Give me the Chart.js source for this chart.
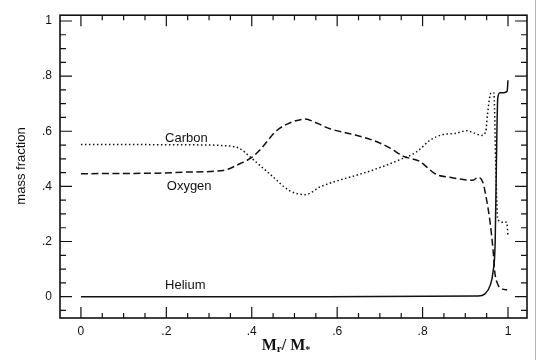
<!DOCTYPE html>
<html>
<head>
<meta charset="utf-8">
<script src="https://cdn.jsdelivr.net/npm/chart.js@4/dist/chart.umd.min.js"></script>
<style>
  html, body { margin: 0; padding: 0; background: #fff; }
  #wrap { width: 539px; height: 360px; }
</style>
</head>
<body>
<div id="wrap"><canvas id="chart" width="539" height="360"></canvas></div>
<script>
// tick labels
const xTicks = [0, 0.2, 0.4, 0.6, 0.8, 1];
const yTicks = [0, 0.2, 0.4, 0.6, 0.8, 1];

// Carbon (dotted)
const carbonX = [0, 0.1, 0.2, 0.3, 0.33, 0.37, 0.396, 0.443, 0.489, 0.525, 0.56, 0.6, 0.653, 0.707, 0.747, 0.786, 0.817, 0.848, 0.876, 0.904, 0.918, 0.939, 0.948, 0.952, 0.958, 0.962, 0.967, 0.971, 0.976, 0.988, 0.997, 1.0];
const carbonY = [0.552, 0.552, 0.551, 0.55, 0.548, 0.539, 0.507, 0.444, 0.384, 0.37, 0.398, 0.42, 0.444, 0.472, 0.497, 0.525, 0.567, 0.588, 0.592, 0.602, 0.595, 0.585, 0.6, 0.66, 0.73, 0.74, 0.74, 0.5, 0.28, 0.27, 0.27, 0.22];

// Oxygen (dashed)
const oxygenX = [0, 0.1, 0.185, 0.25, 0.333, 0.372, 0.4, 0.419, 0.458, 0.489, 0.525, 0.552, 0.583, 0.63, 0.684, 0.724, 0.754, 0.794, 0.81, 0.83, 0.864, 0.904, 0.918, 0.93, 0.941, 0.95, 0.958, 0.965, 0.969, 0.976, 0.986, 0.998];
const oxygenY = [0.446, 0.447, 0.448, 0.452, 0.458, 0.482, 0.505, 0.532, 0.602, 0.63, 0.644, 0.63, 0.609, 0.591, 0.567, 0.539, 0.51, 0.49, 0.47, 0.445, 0.433, 0.423, 0.422, 0.433, 0.415, 0.35, 0.27, 0.17, 0.09, 0.045, 0.028, 0.025];

// Helium (solid)
const heliumX = [0, 0.5, 0.93, 0.946, 0.958, 0.965, 0.97, 0.973, 0.976, 0.981, 0.99, 0.998, 1.0];
const heliumY = [0, 0, 0.002, 0.01, 0.04, 0.09, 0.2, 0.5, 0.72, 0.74, 0.74, 0.745, 0.785];

// curve names and where they sit
const curveNames = ['Carbon', 'Oxygen', 'Helium'];
const nameX = [0.197, 0.201, 0.197];
const nameY = [0.574, 0.401, 0.042];

function toPoints(xs, ys) {
  return xs.map(function(v, i) { return { x: v, y: ys[i] }; });
}

function fmtTick(value) {
  if (value === 0) return '0';
  if (value === 1) return '1';
  return '.' + Math.round(value * 10);
}

const INK = '#111';

// inward ticks on all four sides, frame, labels and axis titles
const decorations = {
  id: 'decorations',
  afterDatasetsDraw(chart) {
    const ctx = chart.ctx;
    const a = chart.chartArea;
    const xs = chart.scales.x;
    const ys = chart.scales.y;
    ctx.save();
    ctx.strokeStyle = INK;
    ctx.lineWidth = 1.6;
    ctx.strokeRect(a.left, a.top, a.right - a.left, a.bottom - a.top);

    ctx.lineWidth = 1.2;
    ctx.beginPath();
    for (let i = 0; i <= 20; i++) {
      const px = xs.getPixelForValue(i * 0.05);
      const len = i % 4 === 0 ? 11 : 5;
      ctx.moveTo(px, a.bottom); ctx.lineTo(px, a.bottom - len);
      ctx.moveTo(px, a.top); ctx.lineTo(px, a.top + len);
    }
    for (let i = -1; i <= 20; i++) {
      const py = ys.getPixelForValue(i * 0.05);
      const len = i % 4 === 0 ? 12 : 6;
      ctx.moveTo(a.left, py); ctx.lineTo(a.left + len, py);
      ctx.moveTo(a.right, py); ctx.lineTo(a.right - len, py);
    }
    ctx.stroke();

    // curve names
    ctx.fillStyle = INK;
    ctx.font = '13px "Liberation Sans", Arial, sans-serif';
    ctx.textBaseline = 'middle';
    ctx.textAlign = 'left';
    curveNames.forEach(function(n, i) {
      ctx.fillText(n, xs.getPixelForValue(nameX[i]), ys.getPixelForValue(nameY[i]));
    });

    // y title
    ctx.save();
    ctx.translate(21, 166);
    ctx.rotate(-Math.PI / 2);
    ctx.textAlign = 'center';
    ctx.font = '13px "Liberation Sans", Arial, sans-serif';
    ctx.fillText('mass fraction', 0, 0);
    ctx.restore();

    // x title  M_r / M_*
    const parts = [
      { t: 'M', f: 'bold 16px "Liberation Serif", serif', dy: 0 },
      { t: 'r', f: 'bold 11px "Liberation Serif", serif', dy: 2 },
      { t: '/ M', f: 'bold 16px "Liberation Serif", serif', dy: 0 },
      { t: '*', f: 'bold 10px "Liberation Serif", serif', dy: 3 }
    ];
    let total = 0;
    parts.forEach(function(p) { ctx.font = p.f; p.w = ctx.measureText(p.t).width; total += p.w; });
    let cx = 286 - total / 2;
    ctx.textBaseline = 'alphabetic';
    parts.forEach(function(p) {
      ctx.font = p.f;
      ctx.fillText(p.t, cx, 350 + p.dy);
      cx += p.w;
    });

    // scan edge line
    ctx.strokeStyle = '#b5b5b5';
    ctx.lineWidth = 1;
    ctx.beginPath();
    ctx.moveTo(535.5, 0); ctx.lineTo(535.5, 360);
    ctx.stroke();
    ctx.restore();
  }
};

const lineBase = {
  borderColor: INK,
  borderWidth: 1.5,
  pointRadius: 0,
  fill: false,
  cubicInterpolationMode: 'monotone'
};

new Chart(document.getElementById('chart'), {
  type: 'line',
  data: {
    datasets: [
      Object.assign({}, lineBase, { label: 'Carbon', data: toPoints(carbonX, carbonY), borderDash: [1.5, 2.5] }),
      Object.assign({}, lineBase, { label: 'Oxygen', data: toPoints(oxygenX, oxygenY), borderDash: [7, 3.5] }),
      Object.assign({}, lineBase, { label: 'Helium', data: toPoints(heliumX, heliumY) })
    ]
  },
  options: {
    responsive: false,
    animation: false,
    layout: { padding: { top: 6, right: 12, left: 0, bottom: 0 } },
    plugins: {
      legend: { display: false },
      tooltip: { enabled: false }
    },
    scales: {
      x: {
        type: 'linear',
        min: -0.049,
        max: 1.0445,
        grid: { display: false, drawTicks: false },
        border: { display: false },
        afterBuildTicks: function(s) { s.ticks = xTicks.map(function(v) { return { value: v }; }); },
        afterFit: function(s) { s.height = 42; },
        ticks: {
          callback: fmtTick,
          color: INK,
          padding: 6,
          maxRotation: 0,
          font: { family: '"Liberation Sans", Arial, sans-serif', size: 12 }
        }
      },
      y: {
        type: 'linear',
        min: -0.0775,
        max: 1.021,
        grid: { display: false, drawTicks: false },
        border: { display: false },
        afterBuildTicks: function(s) { s.ticks = yTicks.map(function(v) { return { value: v }; }); },
        afterFit: function(s) { s.width = 60; },
        ticks: {
          callback: fmtTick,
          color: INK,
          padding: 8,
          font: { family: '"Liberation Sans", Arial, sans-serif', size: 12 }
        }
      }
    }
  },
  plugins: [decorations]
});
</script>
</body>
</html>
